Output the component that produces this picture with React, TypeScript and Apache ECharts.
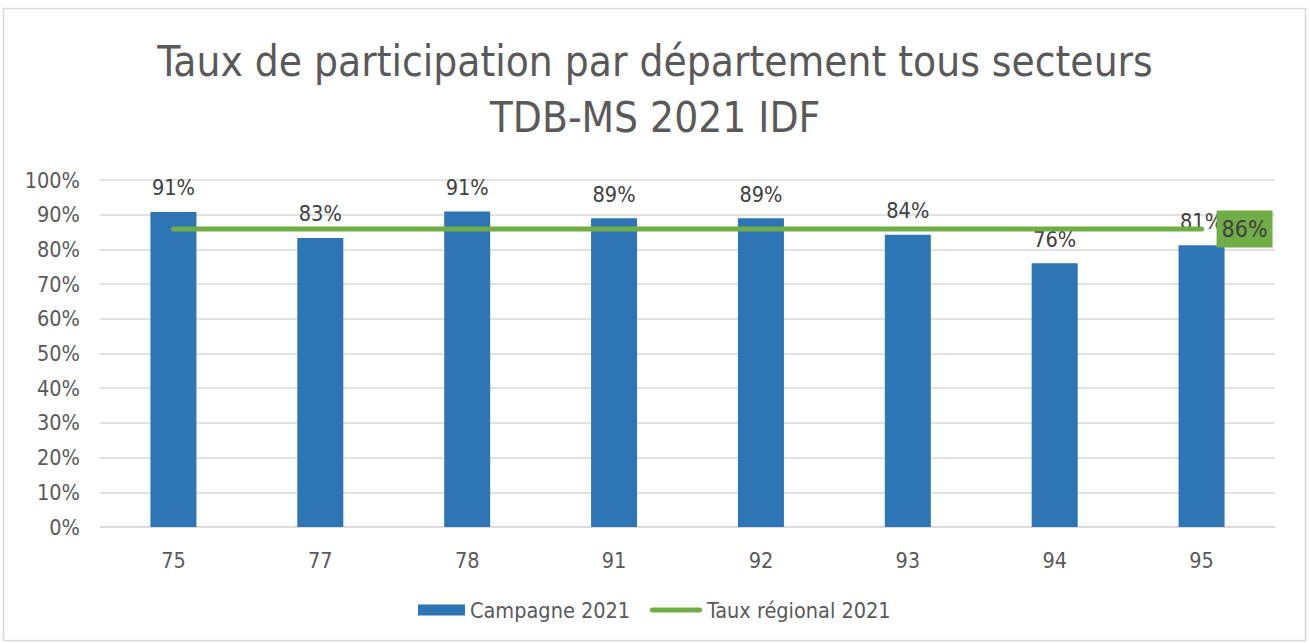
import React, { useEffect, useRef } from "react";
import * as echarts from "echarts";

const categories = ["75", "77", "78", "91", "92", "93", "94", "95"];
const campagne2021 = [90.8, 83.3, 90.9, 89.0, 89.0, 84.2, 76.0, 81.2];
const tauxRegional = [85.9, 85.9, 85.9, 85.9, 85.9, 85.9, 85.9, 85.9];
const yTicks = [0, 10, 20, 30, 40, 50, 60, 70, 80, 90, 100];

const FONT = "'Liberation Sans Narrow', 'DejaVu Sans Condensed', 'Open Sans', sans-serif";
const FS = 21.5;

export default function App() {
  const ref = useRef<HTMLDivElement>(null);
  useEffect(() => {
    document.body.style.margin = "0";
    const chart = echarts.init(ref.current!, null, { renderer: "svg" });
    chart.setOption({
      animation: false,
      backgroundColor: "#ffffff",
      textStyle: { fontFamily: FONT },
      title: {
        text: "Taux de participation par département tous secteurs\nTDB-MS 2021 IDF",
        left: "center",
        top: 28,
        textStyle: { fontSize: 42, fontWeight: "normal", color: "#595959", lineHeight: 56, fontFamily: FONT },
      },
      graphic: [
        {
          type: "rect",
          shape: { x: 3.5, y: 8.5, width: 1302, height: 632 },
          style: { fill: "none", stroke: "#d9d9d9", lineWidth: 1.5 },
          silent: true,
        },
      ],
      legend: [
        {
          top: 594,
          left: 413,
          itemWidth: 47,
          itemHeight: 11,
          textStyle: { fontSize: FS, color: "#595959", fontFamily: FONT },
          data: [{ name: "Campagne 2021", icon: "rect" }],
        },
        {
          top: 594,
          left: 645,
          itemWidth: 52,
          itemHeight: 5,
          textStyle: { fontSize: FS, color: "#595959", fontFamily: FONT },
          data: [
            {
              name: "Taux régional 2021",
              icon: "path://M2.5,0H49.5A2.5,2.5,0,0,1,49.5,5H2.5A2.5,2.5,0,0,1,2.5,0Z",
            },
          ],
        },
      ],
      grid: { left: 100, right: 35, top: 180, bottom: 116, containLabel: false },
      xAxis: {
        type: "category",
        data: categories,
        axisLine: { lineStyle: { color: "#d9d9d9", width: 1.5 } },
        axisTick: { show: false },
        axisLabel: { fontSize: FS, color: "#595959", margin: 22, fontFamily: FONT },
      },
      yAxis: {
        type: "value",
        min: 0,
        max: 100,
        interval: 10,
        axisLabel: {
          fontSize: FS,
          color: "#595959",
          margin: 20,
          fontFamily: FONT,
          formatter: (v: number) => (yTicks.includes(v) ? v + "%" : ""),
        },
        splitLine: { lineStyle: { color: "#d9d9d9", width: 1.5 } },
        axisLine: { show: false },
        axisTick: { show: false },
      },
      series: [
        {
          name: "Campagne 2021",
          type: "bar",
          data: campagne2021,
          barWidth: 46,
          itemStyle: { color: "#2e75b6" },
          label: {
            show: true,
            position: "top",
            distance: 13,
            fontSize: FS,
            color: "#404040",
            fontFamily: FONT,
            formatter: (p: any) => Math.round(p.value) + "%",
          },
        },
        {
          name: "Taux régional 2021",
          type: "line",
          data: tauxRegional,
          symbol: "none",
          lineStyle: { color: "#70ad47", width: 5, cap: "round" },
          itemStyle: { color: "#70ad47" },
          endLabel: {
            show: true,
            distance: 15,
            backgroundColor: "#70ad47",
            padding: [7, 5, 7, 5],
            fontSize: 23,
            color: "#404040",
            fontFamily: FONT,
            formatter: (p: any) => Math.round(p.value) + "%",
          },
          z: 5,
        },
      ],
    });
    return () => chart.dispose();
  }, []);
  return <div ref={ref} style={{ width: 1310, height: 643 }} />;
}
